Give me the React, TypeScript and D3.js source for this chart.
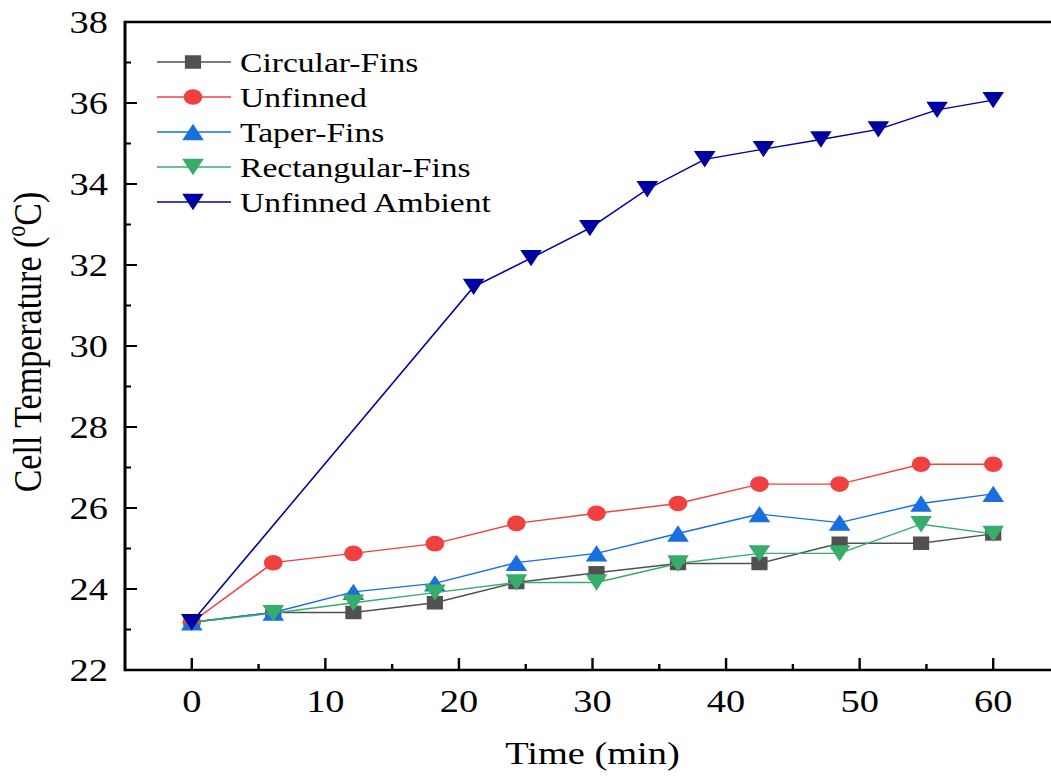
import React from 'react';
import * as d3 from 'd3';

// data
const timeFins = [0, 6.1, 12.1, 18.2, 24.3, 30.3, 36.4, 42.5, 48.5, 54.6, 60];
const timeAmbient = [0, 21.1, 25.4, 29.8, 34.1, 38.4, 42.8, 47.1, 51.4, 55.8, 60];

const circularFins = [23.18, 23.42, 23.42, 23.66, 24.16, 24.4, 24.63, 24.63, 25.13, 25.13, 25.36];
const unfinned = [23.18, 24.65, 24.88, 25.12, 25.62, 25.87, 26.11, 26.59, 26.59, 27.08, 27.08];
const taperFins = [23.18, 23.42, 23.93, 24.14, 24.65, 24.88, 25.37, 25.85, 25.64, 26.11, 26.35];
const rectangularFins = [23.18, 23.4, 23.66, 23.91, 24.16, 24.16, 24.63, 24.88, 24.88, 25.6, 25.36];
const unfinnedAmbient = [23.18, 31.46, 32.17, 32.91, 33.87, 34.61, 34.86, 35.1, 35.35, 35.83, 36.07];

const seriesNames = ['Circular-Fins', 'Unfinned', 'Taper-Fins', 'Rectangular-Fins', 'Unfinned Ambient'];
const xTicks = [0, 10, 20, 30, 40, 50, 60];
const yTicks = [22, 24, 26, 28, 30, 32, 34, 36, 38];

// the reference is stretched horizontally, so draw in a narrower box and stretch it
const W = 1051, H = 776;
const SX = 1.2;
const IW = W / SX;
const FONT = "'Liberation Serif', 'Times New Roman', Times, serif";

const series = [
  { name: seriesNames[0], t: timeFins, v: circularFins, color: '#515151', shape: 'square' },
  { name: seriesNames[1], t: timeFins, v: unfinned, color: '#F14040', shape: 'circle' },
  { name: seriesNames[2], t: timeFins, v: taperFins, color: '#1A6FDF', shape: 'up' },
  { name: seriesNames[3], t: timeFins, v: rectangularFins, color: '#37AD6B', shape: 'down' },
  { name: seriesNames[4], t: timeAmbient, v: unfinnedAmbient, color: '#0000A0', shape: 'down' },
];

const Marker = ({ shape, x, y, color }: { shape: string; x: number; y: number; color: string }) => {
  if (shape === 'square') {
    const s = 13.5;
    return <rect x={x - s / 2} y={y - s / 2} width={s} height={s} fill={color} />;
  }
  if (shape === 'circle') {
    return <circle cx={x} cy={y} r={7.8} fill={color} />;
  }
  const hw = 9, hh = 8.2;
  const d = shape === 'up'
    ? `M${x},${y - hh}L${x + hw},${y + hh}L${x - hw},${y + hh}Z`
    : `M${x},${y + hh}L${x + hw},${y - hh}L${x - hw},${y - hh}Z`;
  return <path d={d} fill={color} />;
};

export default function App() {
  const x = d3.scaleLinear().domain([-5, 65]).range([125 / SX, 1060 / SX]);
  const y = d3.scaleLinear().domain([22, 38]).range([670, 22]);
  const line = d3.line<[number, number]>().x(d => x(d[0])).y(d => y(d[1]));

  const xMinor = d3.range(5, 60, 10);
  const yMinor = d3.range(23, 38, 2);
  const left = x(-5), bottom = y(22), top = y(38);

  return (
    <svg
      width={W}
      height={H}
      viewBox={`0 0 ${IW} ${H}`}
      preserveAspectRatio="none"
      style={{ position: 'absolute', left: 0, top: 0, background: '#fff', fontFamily: FONT }}
    >
      {/* series */}
      {series.map(s => (
        <g key={s.name}>
          <path
            d={line(s.t.map((t, i) => [t, s.v[i]] as [number, number])) || ''}
            fill="none"
            stroke={s.color}
            strokeWidth={1.4}
          />
          {s.t.map((t, i) => (
            <Marker key={i} shape={s.shape} x={x(t)} y={y(s.v[i])} color={s.color} />
          ))}
        </g>
      ))}

      {/* axes frame */}
      <line x1={left} x2={IW + 10} y1={bottom} y2={bottom} stroke="#000" strokeWidth={2.5} />
      <line x1={left} x2={IW + 10} y1={top} y2={top} stroke="#000" strokeWidth={2.5} />
      <line x1={left} x2={left} y1={top - 1.25} y2={bottom + 1.25} stroke="#000" strokeWidth={2.5} />

      {/* x ticks */}
      {xTicks.map(t => (
        <g key={'x' + t}>
          <line x1={x(t)} x2={x(t)} y1={bottom} y2={bottom - 12} stroke="#000" strokeWidth={2} />
          <text x={x(t)} y={712} textAnchor="middle" fontSize={32}>{t}</text>
        </g>
      ))}
      {xMinor.map(t => (
        <line key={'xm' + t} x1={x(t)} x2={x(t)} y1={bottom} y2={bottom - 6} stroke="#000" strokeWidth={2} />
      ))}

      {/* y ticks */}
      {yTicks.map(t => (
        <g key={'y' + t}>
          <line x1={left} x2={left + 10} y1={y(t)} y2={y(t)} stroke="#000" strokeWidth={2} />
          <text x={90} y={y(t)} dy="0.35em" textAnchor="end" fontSize={32}>{t}</text>
        </g>
      ))}
      {yMinor.map(t => (
        <line key={'ym' + t} x1={left} x2={left + 5} y1={y(t)} y2={y(t)} stroke="#000" strokeWidth={2} />
      ))}

      {/* axis titles */}
      <text x={(x(-5) + x(65)) / 2} y={764} textAnchor="middle" fontSize={32}>Time (min)</text>
      <text transform={`translate(${41 / SX},342) rotate(-90)`} textAnchor="middle" fontSize={34}>
        Cell Temperature (<tspan fontSize={22} dy={-13}>o</tspan><tspan dy={13}>C)</tspan>
      </text>

      {/* legend */}
      {series.map((s, i) => {
        const cy = 62 + i * 35;
        return (
          <g key={'lg' + s.name}>
            <line x1={157 / SX} x2={231 / SX} y1={cy} y2={cy} stroke={s.color} strokeWidth={1.4} />
            <Marker shape={s.shape} x={193 / SX} y={cy} color={s.color} />
            <text x={240 / SX} y={cy + 10} fontSize={28}>{s.name}</text>
          </g>
        );
      })}
    </svg>
  );
}
